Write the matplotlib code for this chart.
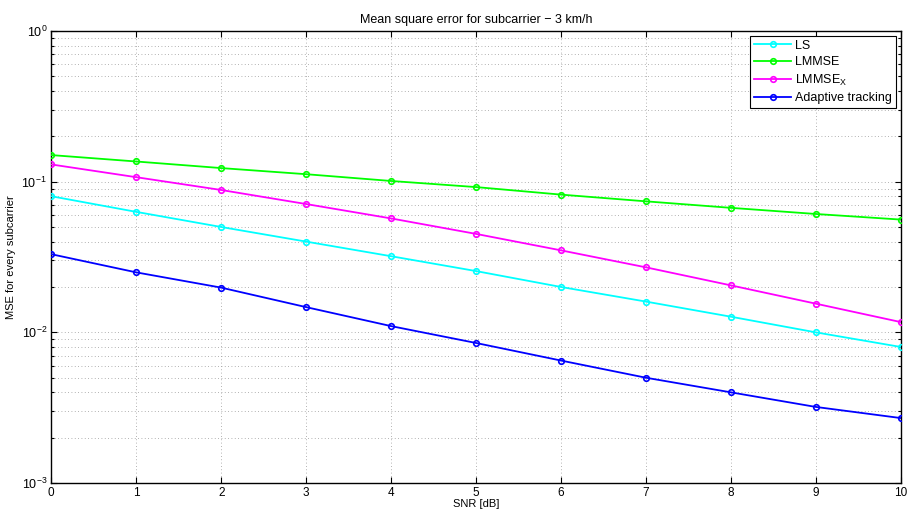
import matplotlib
matplotlib.use("Agg")
import matplotlib.pyplot as plt
import numpy as np
from matplotlib.ticker import LogLocator, NullFormatter, FixedLocator

plt.rcParams.update({
    "font.family":      "sans-serif",
    "font.sans-serif":  ["Liberation Sans", "DejaVu Sans"],
    "font.size":        8,
    "mathtext.fontset": "custom",
    "mathtext.rm":      "Liberation Sans",
    "mathtext.it":      "Liberation Sans",
    "mathtext.default": "regular",
    "axes.linewidth":   1.0,
    "xtick.direction":  "in",
    "ytick.direction":  "in",
    "xtick.top":        True,
    "ytick.right":      True,
})

# ---------------------------------------------------------------------------
# Data
# ---------------------------------------------------------------------------
snr = [0, 1, 2, 3, 4, 5, 6, 7, 8, 9, 10]
mse_ls = [0.080, 0.063, 0.050, 0.040, 0.032, 0.0255, 0.020, 0.016, 0.0127, 0.0100, 0.0080]
mse_lmmse = [0.150, 0.136, 0.123, 0.112, 0.101, 0.092, 0.082, 0.074, 0.067, 0.061, 0.056]
mse_lmmse_x = [0.130, 0.107, 0.088, 0.071, 0.057, 0.045, 0.035, 0.027, 0.0205, 0.0155, 0.0117]
mse_adaptive = [0.033, 0.025, 0.0198, 0.0147, 0.0110, 0.0085, 0.0065, 0.0050, 0.0040, 0.0032, 0.0027]

series = [
    ("LS",                mse_ls,       "#00FFFF"),
    ("LMMSE",             mse_lmmse,    "#00FF00"),
    ("LMMSE$_X$",         mse_lmmse_x,  "#FF00FF"),
    ("Adaptive tracking", mse_adaptive, "#0000FF"),
]

# ---------------------------------------------------------------------------
# Figure
# ---------------------------------------------------------------------------
fig = plt.figure(figsize=(9.08, 5.15), dpi=100, facecolor="white")
ax = fig.add_axes([0.0565, 0.062, 0.9355, 0.878])

for label, vals, color in series:
    ax.semilogy(snr, vals, color=color, linewidth=1.3, marker="o",
                markersize=4, markerfacecolor="none", markeredgewidth=1.2,
                label=label, zorder=3)

ax.set_xlim(0, 10)
ax.set_ylim(1e-3, 1e0)
ax.xaxis.set_major_locator(FixedLocator(snr))
ax.yaxis.set_major_locator(LogLocator(base=10, numticks=10))
ax.yaxis.set_minor_locator(LogLocator(base=10, subs=np.arange(2, 10), numticks=20))
ax.yaxis.set_minor_formatter(NullFormatter())
ax.tick_params(which="major", length=4, width=0.8, labelsize=9, pad=3)
ax.tick_params(axis="x", labelsize=8.5)
ax.tick_params(which="minor", length=2.5, width=0.8)

ax.grid(True, which="major", color="#999999", linestyle=(0, (1, 3)), linewidth=0.6)
ax.grid(True, which="minor", axis="y", color="#999999", linestyle=(0, (1, 3)), linewidth=0.6)

ax.set_xlabel("SNR [dB]", fontsize=8, labelpad=0)
ax.set_ylabel("MSE for every subcarrier", fontsize=8, labelpad=4)
ax.set_title("Mean square error for subcarrier \u2212 3 km/h", fontsize=9, pad=6)

leg = ax.legend(loc="upper right", fontsize=9, frameon=True, fancybox=False,
                edgecolor="black", framealpha=1, borderaxespad=0.4,
                handlelength=3.0, handletextpad=0.3, labelspacing=0.35,
                borderpad=0.3)
leg.get_frame().set_linewidth(0.8)

plt.savefig("out.png", dpi=100, facecolor="white")
plt.close()
